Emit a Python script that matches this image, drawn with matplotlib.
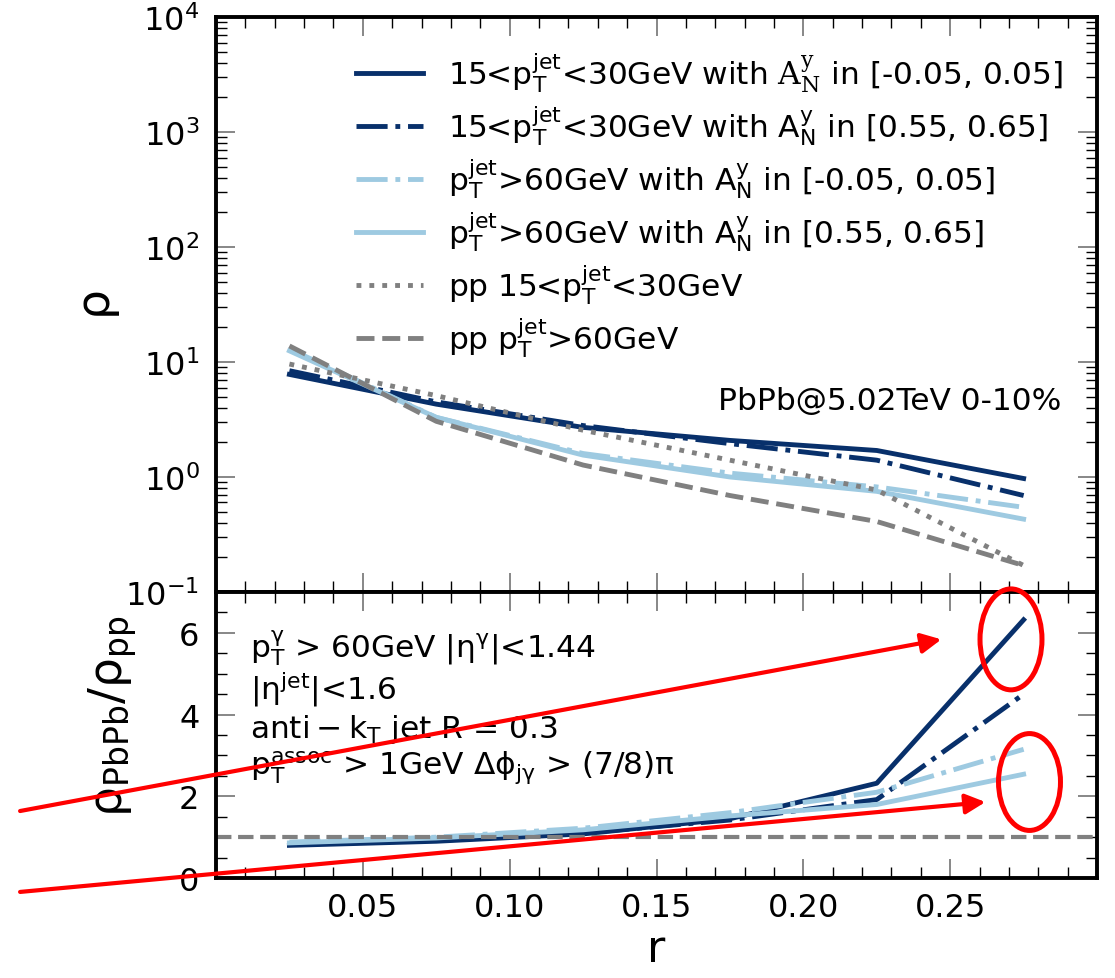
import numpy as np
import matplotlib.pyplot as plt
from matplotlib.patches import Ellipse
from matplotlib.ticker import FixedLocator, MultipleLocator, NullFormatter, FormatStrFormatter

plt.rcParams['font.family'] = ['DejaVu Sans']
plt.rcParams['mathtext.fontset'] = 'custom'
plt.rcParams['mathtext.rm'] = 'DejaVu Serif'
plt.rcParams['mathtext.sf'] = 'DejaVu Sans'
plt.rcParams['mathtext.default'] = 'regular'

# r bins (bin centres)
r = [0.025, 0.075, 0.125, 0.175, 0.225, 0.275]

# jet shape rho(r)
rho_low_a0 = [7.8, 4.3, 2.7, 2.08, 1.7, 0.97]
rho_low_a6 = [8.4, 4.5, 2.8, 1.95, 1.4, 0.69]
rho_high_a0 = [13.0, 3.3, 1.6, 1.08, 0.82, 0.545]
rho_high_a6 = [12.5, 3.3, 1.55, 1.0, 0.75, 0.43]
rho_pp_low = [9.6, 5.1, 2.55, 1.4, 0.77, 0.17]
rho_pp_high = [13.8, 3.05, 1.27, 0.69, 0.41, 0.17]

# PbPb / pp ratios
ratio_low_a0 = [0.80, 0.90, 1.08, 1.45, 2.32, 6.32]
ratio_low_a6 = [0.82, 0.92, 1.10, 1.42, 1.92, 4.50]
ratio_high_a0 = [0.88, 1.00, 1.22, 1.60, 2.10, 3.15]
ratio_high_a6 = [0.86, 0.98, 1.18, 1.52, 1.80, 2.54]

labels = [
    r'15<$p_T^{jet}$<30GeV with $\mathrm{A}_\mathrm{N}^\mathrm{y}$ in [-0.05, 0.05]',
    r'15<$p_T^{jet}$<30GeV with $A_N^y$ in [0.55, 0.65]',
    r'$p_T^{jet}$>60GeV with $A_N^y$ in [-0.05, 0.05]',
    r'$p_T^{jet}$>60GeV with $A_N^y$ in [0.55, 0.65]',
    r'pp 15<$p_T^{jet}$<30GeV',
    r'pp $p_T^{jet}$>60GeV',
]

dark = '#08306b'
light = '#9ecae1'
grey = '#808080'
lw = 3.5
fs = 22.5

fig = plt.figure(figsize=(11.15, 9.79), dpi=100)
ax1 = fig.add_axes([0.1937, 0.3943, 0.7902, 0.5873])
ax2 = fig.add_axes([0.1937, 0.1021, 0.7902, 0.2922])

ax1.plot(r, rho_low_a0, color=dark, lw=lw, ls='-', label=labels[0])
ax1.plot(r, rho_low_a6, color=dark, lw=lw, ls='-.', label=labels[1])
ax1.plot(r, rho_high_a0, color=light, lw=lw, ls='-.', label=labels[2])
ax1.plot(r, rho_high_a6, color=light, lw=lw, ls='-', label=labels[3])
ax1.plot(r, rho_pp_low, color=grey, lw=lw, ls=':', label=labels[4])
ax1.plot(r, rho_pp_high, color=grey, lw=lw, ls='--', label=labels[5])

ax2.plot(r, ratio_low_a0, color=dark, lw=lw, ls='-')
ax2.plot(r, ratio_low_a6, color=dark, lw=lw, ls='-.')
ax2.plot(r, ratio_high_a0, color=light, lw=lw, ls='-.')
ax2.plot(r, ratio_high_a6, color=light, lw=lw, ls='-')
ax2.axhline(1.0, color=grey, lw=3, ls='--')

# axes ranges / ticks
ax1.set_yscale('log')
ax1.set_ylim(0.1, 1e4)
ax1.yaxis.set_minor_formatter(NullFormatter())
ax2.set_ylim(0, 7)
ax2.yaxis.set_major_locator(FixedLocator([0, 2, 4, 6]))
ax2.yaxis.set_minor_locator(MultipleLocator(0.5))
for ax in (ax1, ax2):
    ax.set_xlim(0, 0.3)
    ax.xaxis.set_major_locator(FixedLocator([0.05, 0.10, 0.15, 0.20, 0.25]))
    ax.xaxis.set_minor_locator(MultipleLocator(0.01))
    ax.tick_params(which='both', direction='in', top=True, right=True, labelsize=23)
    ax.tick_params(axis='y', pad=12)
    ax.tick_params(axis='x', pad=10)
    ax.tick_params(which='major', length=14, width=1.2, color='0.45')
    ax.tick_params(which='minor', length=8, width=1.0, color='k')
    for s in ax.spines.values():
        s.set_linewidth(2.8)
ax1.tick_params(labelbottom=False)
ax2.xaxis.set_major_formatter(FormatStrFormatter('%.2f'))

ax1.set_ylabel(r'$\rho$', fontsize=34)
ax1.yaxis.set_label_coords(-0.107, 0.5)
ax2.set_ylabel(r'$\rho_{PbPb}/\rho_{pp}$', fontsize=34)
ax2.yaxis.set_label_coords(-0.087, 0.57)
ax2.set_xlabel('r', fontsize=32, labelpad=3)

ax1.legend(loc='upper left', bbox_to_anchor=(0.127, 0.99), frameon=False, fontsize=fs,
           handlelength=2.15, handletextpad=0.8, labelspacing=0.3)
ax1.text(0.959, 0.318, 'PbPb@5.02TeV 0-10%', transform=ax1.transAxes, fontsize=fs,
         ha='right', va='baseline')

cuts = [
    (0.776, r'$p_T^{\gamma}$ > 60GeV $|\eta^{\gamma}|$<1.44'),
    (0.626, r'$|\eta^{jet}|$<1.6'),
    (0.493, r'$anti-k_T$ jet R = 0.3'),
    (0.364, r'$p_T^{assoc}$ > 1GeV $\Delta\phi_{j\gamma}$ > (7/8)$\pi$'),
]
for y, txt in cuts:
    ax2.text(0.039, y, txt, transform=ax2.transAxes, fontsize=fs, ha='left', va='baseline')

# red highlight marks on the ratio panel
arrow_kw = dict(arrowstyle='-|>,head_length=0.4,head_width=0.2', mutation_scale=30,
                color='red', lw=3, shrinkA=0, shrinkB=0)
ax2.annotate('', xy=(0.247, 5.84), xytext=(-0.0667, 1.64), arrowprops=arrow_kw,
             annotation_clip=False, zorder=10)
ax2.annotate('', xy=(0.262, 1.86), xytext=(-0.0667, -0.34), arrowprops=arrow_kw,
             annotation_clip=False, zorder=10)
for cx, cy, h in [(0.2707, 5.84, 2.47), (0.277, 2.35, 2.37)]:
    ax2.add_patch(Ellipse((cx, cy), 0.0211, h, fill=False, ec='red', lw=3.6,
                          clip_on=False, zorder=10))

fig.savefig('out.png', dpi=100)
